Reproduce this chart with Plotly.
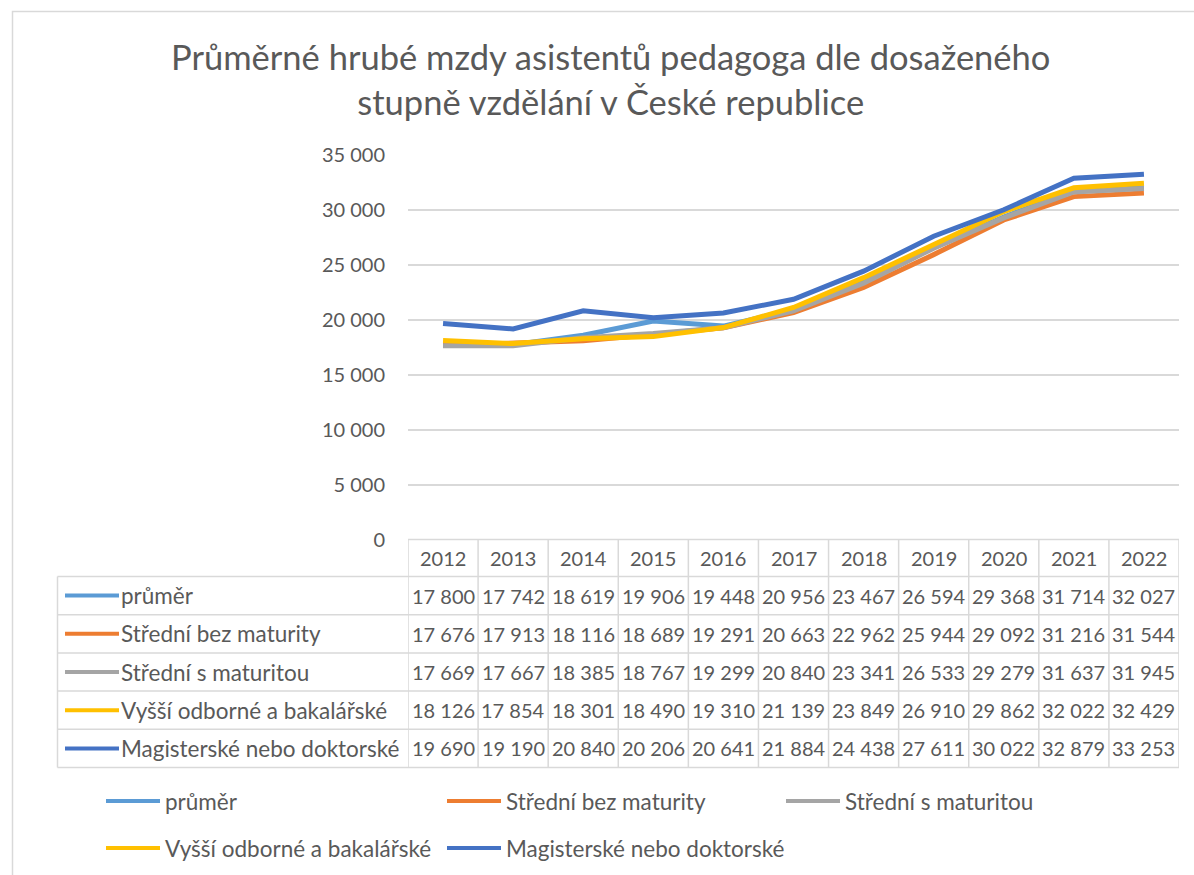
import plotly.graph_objects as go

years = [2012, 2013, 2014, 2015, 2016, 2017, 2018, 2019, 2020, 2021, 2022]

prumer = [17800, 17742, 18619, 19906, 19448, 20956, 23467, 26594, 29368, 31714, 32027]
bez_maturity = [17676, 17913, 18116, 18689, 19291, 20663, 22962, 25944, 29092, 31216, 31544]
s_maturitou = [17669, 17667, 18385, 18767, 19299, 20840, 23341, 26533, 29279, 31637, 31945]
vyssi_bc = [18126, 17854, 18301, 18490, 19310, 21139, 23849, 26910, 29862, 32022, 32429]
mgr_dr = [19690, 19190, 20840, 20206, 20641, 21884, 24438, 27611, 30022, 32879, 33253]

names = ["průměr", "Střední bez maturity", "Střední s maturitou",
         "Vyšší odborné a bakalářské", "Magisterské nebo doktorské"]
colors = ["#5B9BD5", "#ED7D31", "#A5A5A5", "#FFC000", "#4472C4"]
series = [prumer, bez_maturity, s_maturitou, vyssi_bc, mgr_dr]

FONT = "Lato"
TXT = "#595959"
GRID = "#D9D9D9"
W, H = 1194, 875
L, R, T, B = 408, 15, 155, 335


def px(x):  # pixel -> paper x
    return (x - L) / (W - L - R)


def py(y):  # pixel -> paper y
    return (H - B - y) / (H - T - B)


def fmt(v):
    return f"{v:,}".replace(",", " ")


def txt(x, y, text, xref="paper", xanchor="center", size=20):
    return dict(x=x, y=y, xref=xref, yref="paper", text=text, showarrow=False,
                xanchor=xanchor, yanchor="middle",
                font=dict(size=size, color=TXT, family=FONT))


fig = go.Figure()
for nm, col, vals in zip(names, colors, series):
    fig.add_trace(go.Scatter(x=years, y=vals, name=nm, mode="lines",
                             line=dict(color=col, width=5), showlegend=False,
                             hovertemplate="%{x}: %{y:,}<extra>" + nm + "</extra>"))

shapes = []
annots = []

# rámeček grafu
shapes.append(dict(type="rect", xref="paper", yref="paper",
                   x0=px(12.5), x1=px(1300), y0=py(11.5), y1=py(900),
                   line=dict(color=GRID, width=1.5)))

# datová tabulka
row_top = 576.5
row_h = 38.2
header_top = 539.5
table_bottom = row_top + 5 * row_h
shapes.append(dict(type="line", xref="x", yref="paper", x0=years[0] - 0.5, x1=years[-1] + 0.5,
                   y0=py(header_top), y1=py(header_top), line=dict(color=GRID, width=1.5)))
for i in range(6):
    yy = py(row_top + i * row_h)
    shapes.append(dict(type="line", xref="paper", yref="paper", x0=px(57.5), x1=1,
                       y0=yy, y1=yy, line=dict(color=GRID, width=1.5)))
shapes.append(dict(type="line", xref="paper", yref="paper", x0=px(57.5), x1=px(57.5),
                   y0=py(row_top), y1=py(table_bottom), line=dict(color=GRID, width=1.5)))
for yr in years + [years[-1] + 1]:
    shapes.append(dict(type="line", xref="x", yref="paper", x0=yr - 0.5, x1=yr - 0.5,
                       y0=py(header_top), y1=py(table_bottom), line=dict(color=GRID, width=1.5)))

for yr in years:
    annots.append(txt(yr, py((header_top + row_top) / 2), str(yr), xref="x"))

for i, (nm, col, vals) in enumerate(zip(names, colors, series)):
    yc = py(row_top + (i + 0.5) * row_h)
    shapes.append(dict(type="line", xref="paper", yref="paper", x0=px(65), x1=px(119),
                       y0=yc, y1=yc, line=dict(color=col, width=4)))
    annots.append(txt(px(119), yc, nm, xanchor="left", size=22.5))
    for yr, v in zip(years, vals):
        annots.append(txt(yr, yc, fmt(v), xref="x"))

# legenda pod grafem
leg_pos = [(106, 801), (447, 801), (786, 801), (106, 848), (447, 848)]
for (lx, ly), nm, col in zip(leg_pos, names, colors):
    shapes.append(dict(type="line", xref="paper", yref="paper", x0=px(lx), x1=px(lx + 54),
                       y0=py(ly), y1=py(ly), line=dict(color=col, width=4)))
    annots.append(txt(px(lx + 57), py(ly), nm, xanchor="left", size=22.5))

# titulek
annots.append(txt(px(610), py(79),
                  "Průměrné hrubé mzdy asistentů pedagoga dle dosaženého<br>stupně vzdělání v České republice",
                  size=34.5))

fig.update_layout(
    width=W, height=H,
    margin=dict(l=L, r=R, t=T, b=B),
    plot_bgcolor="white", paper_bgcolor="white",
    separators=", ",
    font=dict(family=FONT, color=TXT),
    xaxis=dict(range=[years[0] - 0.5, years[-1] + 0.5], showticklabels=False,
               showgrid=False, zeroline=False, fixedrange=True),
    yaxis=dict(range=[0, 35000], dtick=5000, tickformat=",d", showgrid=True,
               gridcolor=GRID, gridwidth=1.5, zeroline=False,
               tickfont=dict(size=20, color=TXT, family=FONT),
               ticklabelstandoff=22),
    shapes=shapes,
    annotations=annots,
)

fig.write_html("out.html", config={"displayModeBar": False},
               post_script="document.body.style.margin='0';")
